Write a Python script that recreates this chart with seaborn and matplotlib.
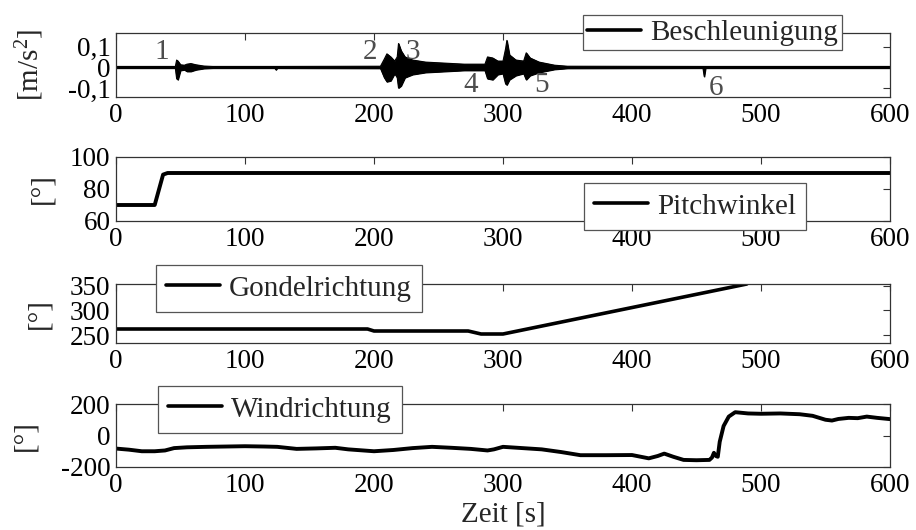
import matplotlib
matplotlib.use("Agg")
import matplotlib.pyplot as plt
from matplotlib.lines import Line2D
import seaborn as sns

# ---------------- data ----------------
x_ticks = [0, 100, 200, 300, 400, 500, 600]

# acceleration envelope (dense oscillation drawn as band)
acc_t = [0, 46, 47, 48, 50, 53, 55, 58, 62, 68, 75, 123, 124, 125, 205, 208, 210, 213,
         216, 218, 219, 221, 224, 230, 240, 255, 270, 286, 288, 292, 296, 300, 302, 303,
         305, 310, 316, 318, 321, 328, 340, 350, 455, 456, 457, 600]
acc_hi = [0.004, 0.004, 0.035, 0.03, 0.012, 0.01, 0.015, 0.018, 0.012, 0.006, 0.004,
          0.004, 0.004, 0.004, 0.005, 0.04, 0.065, 0.05, 0.03, 0.05, 0.115, 0.08, 0.05,
          0.035, 0.025, 0.02, 0.015, 0.015, 0.05, 0.045, 0.03, 0.03, 0.09, 0.13, 0.06,
          0.035, 0.03, 0.07, 0.045, 0.025, 0.01, 0.005, 0.004, 0.004, 0.004, 0.004]
acc_lo = [-0.004, -0.004, -0.055, -0.06, -0.015, -0.012, -0.02, -0.02, -0.012, -0.006,
          -0.004, -0.004, -0.012, -0.004, -0.005, -0.05, -0.07, -0.065, -0.03, -0.05,
          -0.10, -0.09, -0.05, -0.035, -0.025, -0.02, -0.015, -0.015, -0.055, -0.06,
          -0.035, -0.03, -0.08, -0.085, -0.06, -0.04, -0.03, -0.06, -0.04, -0.025,
          -0.01, -0.005, -0.004, -0.045, -0.004, -0.004]
acc_ticks = [-0.1, 0, 0.1]
acc_ticklabels = ["-0,1", "0", "0,1"]
event_labels = ["1", "2", "3", "4", "5", "6"]
event_t = [35.7, 197, 230, 275, 329.5, 465.5]
event_y = [0.072, 0.072, 0.072, -0.088, -0.088, -0.098]

pitch_t = [0, 30, 36.5, 40, 600]
pitch_v = [70, 70, 89, 90, 90]
pitch_ticks = [60, 80, 100]

gondel_t = [0, 195, 200, 273, 283, 300, 489]
gondel_v = [263, 263, 259, 259, 253, 253, 353]
gondel_ticks = [250, 300, 350]

wind_t = [0, 10, 20, 30, 38, 45, 55, 70, 85, 100, 115, 125, 140, 155, 170, 180, 200, 215,
          230, 245, 260, 275, 288, 293, 300, 315, 330, 345, 360, 380, 400, 413, 420, 425,
          432, 440, 450, 460, 462, 463.5, 465, 466.5, 468, 471, 475, 480, 490, 500, 515,
          530, 540, 550, 555, 560, 568, 575, 582, 590, 600]
wind_v = [-83, -90, -100, -100, -95, -80, -75, -72, -70, -68, -70, -72, -85, -82, -78, -88,
          -100, -92, -80, -72, -78, -85, -95, -88, -72, -80, -88, -105, -125, -125, -124,
          -145, -130, -115, -135, -155, -157, -155, -140, -110, -130, -135, -40, 60, 120,
          148, 140, 138, 140, 135, 125, 100, 95, 105, 112, 110, 120, 112, 104]
wind_ticks = [-200, 0, 200]

legend_names = ["Beschleunigung", "Pitchwinkel", "Gondelrichtung", "Windrichtung"]

# ---------------- style ----------------
sns.set_theme(style="white")
plt.rcParams["font.family"] = ["Liberation Serif", "DejaVu Serif"]
plt.rcParams["mathtext.fontset"] = "custom"
plt.rcParams["mathtext.rm"] = "Liberation Serif"
plt.rcParams["mathtext.it"] = "Liberation Serif:italic"
plt.rcParams["axes.unicode_minus"] = False

W, H = 916, 530
fig = plt.figure(figsize=(W / 100, H / 100), dpi=100)

def add_ax(top, bottom):
    return fig.add_axes([116 / W, 1 - bottom / H, 774 / W, (bottom - top) / H])

ax1 = add_ax(33, 97)
ax2 = add_ax(157, 221)
ax3 = add_ax(284, 343)
ax4 = add_ax(404, 467)

# panel 1
ax1.fill_between(acc_t, acc_lo, acc_hi, color="black", lw=0.8)
sns.lineplot(x=acc_t, y=acc_hi, ax=ax1, color="black", lw=0.8)
sns.lineplot(x=acc_t, y=acc_lo, ax=ax1, color="black", lw=0.8)
for lab, tx, ty in zip(event_labels, event_t, event_y):
    ax1.text(tx, ty, lab, ha="center", va="center", fontsize=21, color="#4d4d4d")
ax1.set_ylim(-0.144, 0.166)
ax1.set_yticks(acc_ticks)
ax1.set_yticklabels(acc_ticklabels)
ax1.set_ylabel(r"[m/s$^2$]", fontsize=21)

# panel 2
sns.lineplot(x=pitch_t, y=pitch_v, ax=ax2, color="black", lw=2.8)
ax2.set_ylim(60, 100)
ax2.set_yticks(pitch_ticks)
ax2.set_ylabel("[°]", fontsize=21)

# panel 3
sns.lineplot(x=gondel_t, y=gondel_v, ax=ax3, color="black", lw=2.6)
ax3.set_ylim(235, 353)
ax3.set_yticks(gondel_ticks)
ax3.set_ylabel("[°]", fontsize=21)

# panel 4
sns.lineplot(x=wind_t, y=wind_v, ax=ax4, color="black", lw=2.8)
ax4.set_ylim(-200, 200)
ax4.set_yticks(wind_ticks)
ax4.set_ylabel("[°]", fontsize=21)
ax4.set_xlabel("Zeit [s]", fontsize=21, labelpad=3)

label_x = [46, 55, 52, 38]
for ax, lxp in zip((ax1, ax2, ax3, ax4), label_x):
    ax.yaxis.set_label_coords((lxp - 116) / 774, 0.5)
    ax.set_xlim(0, 600)
    ax.set_xticks(x_ticks)
    ax.tick_params(direction="in", length=5, width=0.8, top=True, right=True,
                   labelsize=19.5, pad=4, color="#333333", labelcolor="black")
    for s in ax.spines.values():
        s.set_color("#333333")
        s.set_linewidth(0.9)
    ax.grid(False)

legend_pos = [(583, 15, 0.15), (584, 183, 0.35), (156, 265, 0.35), (158, 386, 0.35)]
for ax, name, (lx, ly, bp) in zip((ax1, ax2, ax3, ax4), legend_names, legend_pos):
    h = Line2D([0], [0], color="black", lw=2.6)
    leg = ax.legend([h], [name], loc="upper left", bbox_to_anchor=(lx / W, 1 - ly / H),
                    bbox_transform=fig.transFigure, borderaxespad=0, fancybox=False,
                    framealpha=1, edgecolor="#555555", handlelength=1.85,
                    handletextpad=0.3, borderpad=bp, fontsize=21)
    leg.get_frame().set_linewidth(0.9)

fig.savefig("out.png", dpi=100)
